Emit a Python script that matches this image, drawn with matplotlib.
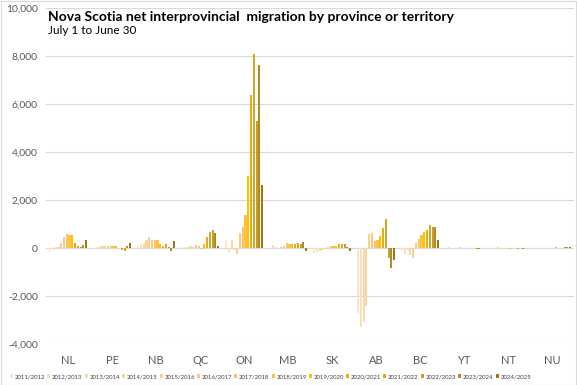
import numpy as np
import matplotlib
matplotlib.use("Agg")
import matplotlib.pyplot as plt
from matplotlib.patches import Rectangle

plt.rcParams['font.family'] = ['Lato', 'DejaVu Sans']

# ---- data ----
provinces = ["NL", "PE", "NB", "QC", "ON", "MB", "SK", "AB", "BC", "YT", "NT", "NU"]
years = ["2011/2012", "2012/2013", "2013/2014", "2014/2015", "2015/2016", "2016/2017",
         "2017/2018", "2018/2019", "2019/2020", "2020/2021", "2021/2022", "2022/2023",
         "2023/2024", "2024/2025"]

NL = [-150, -80, 40, 50, 200, 450, 580, 550, 540, 220, 80, 60, 140, 330]
PE = [-40, 30, 80, 100, 100, 90, 80, 90, 70, 10, -60, -120, 100, 200]
NB = [80, 150, 230, 330, 450, 350, 350, 320, 170, 100, 180, 60, -130, 300]
QC = [40, 60, 50, 80, 60, 130, 90, -40, 150, 450, 680, 750, 640, 100]
ON = [330, -180, 330, -80, -260, 610, 890, 1375, 3000, 6375, 8110, 5290, 7625, 2625]
MB = [20, 130, 50, -30, 30, 80, 200, 160, 170, 150, 200, 160, 250, -110]
SK = [-200, -150, -120, -100, -50, 60, 80, 90, 80, 170, 180, 170, 60, -110]
AB = [-2720, -3280, -3070, -2420, 580, 610, 290, 330, 500, 820, 1200, -430, -850, -500]
BC = [-120, -230, -100, -300, -430, 195, 360, 540, 680, 750, 960, 890, 860, 330]
YT = [20, 30, 10, -20, 20, 30, 10, 20, -10, 10, 20, -30, -40, 20]
NT = [10, -20, 20, 30, -10, 20, 10, -30, 20, 10, -20, 10, -40, 20]
NU = [0, 10, -10, 20, 10, 0, 10, 20, 50, 10, 0, 60, 40, 50]

colors = ["#FBE6CB", "#FADFBB", "#F9DAB0", "#F8D4A3", "#F9CF95", "#FACA82",
          "#FCC466", "#FEC046", "#FFC000", "#E8AE0A", "#D6A628", "#C79E2C",
          "#B08C22", "#9A7712"]

table = np.array([NL, PE, NB, QC, ON, MB, SK, AB, BC, YT, NT, NU])

fig = plt.figure(figsize=(5.77, 3.85), dpi=100)
ax = fig.add_axes([0.080, 0.1065, 0.915, 0.872])

x = np.arange(len(provinces))
slot = 0.063
for j, yr in enumerate(years):
    ax.bar(x + (j - 6.5) * slot, table[:, j], width=0.048, color=colors[j], label=yr, zorder=3)

ax.set_xlim(-0.5, 11.5)
ax.set_ylim(-4000, 10000)
ax.set_yticks(np.arange(-4000, 10001, 2000))
ax.yaxis.set_major_formatter(matplotlib.ticker.FuncFormatter(lambda v, p: f"{v:,.0f}"))
ax.grid(True, axis='y', color='#D9D9D9', linewidth=0.8, zorder=0)
ax.axhline(0, color='#D9D9D9', linewidth=0.8, zorder=2)
for s in ax.spines.values():
    s.set_visible(False)
ax.tick_params(axis='y', length=0, labelsize=7.5, labelcolor='#595959', pad=6)
ax.set_xticks(x)
ax.set_xticklabels(provinces)
ax.tick_params(axis='x', length=0, labelsize=8, labelcolor='#595959', pad=8)

fig.text(0.083, 0.955, "Nova Scotia net interprovincial  migration by province or territory",
         fontsize=10, fontweight='bold', va='center', ha='left', color='black')
fig.text(0.083, 0.921, "July 1 to June 30", fontsize=8.5, va='center', ha='left', color='black')

fig.legend(loc='center left', bbox_to_anchor=(0.01, 0.022), ncol=14, frameon=False,
           fontsize=4.3, handlelength=0.5, handleheight=0.5, handletextpad=0.3,
           columnspacing=0.35, labelcolor='#404040', borderpad=0.2)

fig.patches.append(Rectangle((0.001, 0.001), 0.997, 0.997, transform=fig.transFigure,
                             fill=False, edgecolor='#D9D9D9', linewidth=0.8))

fig.savefig("out.png", dpi=100)
